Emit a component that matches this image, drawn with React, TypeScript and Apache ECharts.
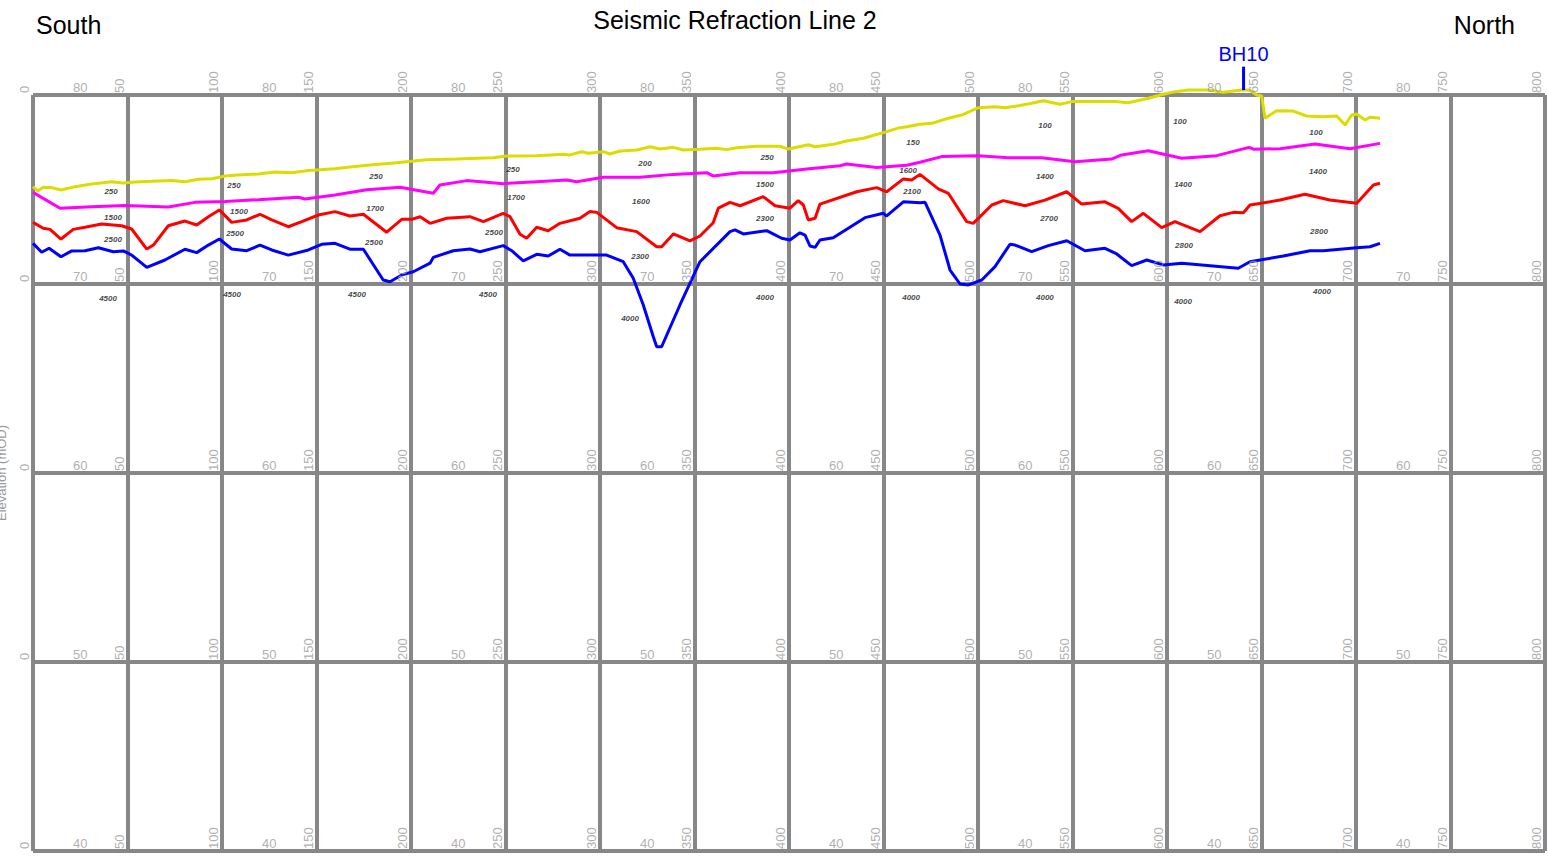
import React, { useEffect, useRef } from "react";
import * as echarts from "echarts";

const FONT = '"Liberation Sans", Arial, Helvetica, sans-serif';

const chartTitle = "Seismic Refraction Line 2";
const leftEnd = "South";
const rightEnd = "North";
const yAxisName = "Elevation (mOD)";

const distanceTicks = [0, 50, 100, 150, 200, 250, 300, 350, 400, 450, 500, 550, 600, 650, 700, 750, 800];
const elevationRows = [80, 70, 60, 50, 40];
const elevationLabelDistances = [25, 125, 225, 325, 425, 525, 625, 725];

// ground surface (yellow)
const groundSurface: [number, number][] = [
  [0, 75.15], [2.5, 74.92], [5.4, 75.12], [9.9, 75.1], [14.8, 74.97], [22.2, 75.15], [31.1, 75.29],
  [41.6, 75.41], [47.8, 75.34], [54, 75.4], [62.8, 75.43], [73.4, 75.47], [80.4, 75.41], [87.5, 75.54],
  [94.6, 75.57], [101.6, 75.71], [108.6, 75.77], [119.2, 75.82], [128, 75.93], [136.9, 75.89], [145.7, 76.0],
  [159.8, 76.1], [167.7, 76.19], [178.3, 76.3], [192.4, 76.42], [208.3, 76.58], [224.2, 76.61], [234.8, 76.65],
  [243.5, 76.68], [250.6, 76.77], [266.5, 76.79], [280.6, 76.86], [284.1, 76.83], [290.3, 77.0], [293.8, 76.92],
  [301.7, 77.0], [305.3, 76.88], [310.6, 77.04], [319.4, 77.09], [326.5, 77.26], [331.7, 77.14], [338.8, 77.23],
  [344.1, 77.09], [352.9, 77.13], [361.7, 77.18], [367, 77.11], [372.3, 77.21], [382.9, 77.29], [395.2, 77.29],
  [399.6, 77.14], [410.2, 77.37], [413.8, 77.26], [423.4, 77.39], [430.5, 77.57], [439.3, 77.71], [449.9, 78.01],
  [457.8, 78.25], [462.3, 78.32], [469.3, 78.45], [475.5, 78.5], [484.3, 78.77], [491.4, 78.94], [500.2, 79.33],
  [509, 79.38], [514.3, 79.33], [519.6, 79.4], [528.4, 79.56], [534.6, 79.7], [543.4, 79.51], [549.6, 79.65],
  [560.2, 79.65], [572.5, 79.65], [579.5, 79.59], [590.1, 79.83], [598, 80.04], [602.5, 80.14], [611.3, 80.26],
  [621.9, 80.26], [629.8, 80.14], [640.4, 80.28], [643.9, 80.25], [647.5, 80.0], [650.1, 79.95], [651.9, 78.77],
  [658, 79.17], [666.8, 79.15], [673.9, 78.89], [682.7, 78.85], [689.8, 78.89], [694.2, 78.41], [697.7, 78.94],
  [700.4, 78.99], [704.8, 78.68], [707.4, 78.82], [712.7, 78.77],
];

// first refractor (magenta)
const refractor1: [number, number][] = [
  [0, 74.85], [14.3, 74.01], [31.1, 74.09], [48.7, 74.15], [71.6, 74.07], [85.7, 74.32], [101.6, 74.37],
  [119.2, 74.46], [140.4, 74.59], [143.9, 74.5], [159.8, 74.71], [176.6, 74.99], [194.2, 75.12], [211.8, 74.8],
  [215.3, 75.24], [229.5, 75.47], [248.8, 75.31], [266.5, 75.41], [282.4, 75.5], [287.7, 75.41], [301.7, 75.65],
  [321.2, 75.65], [338.8, 75.8], [356.5, 75.89], [360, 75.71], [374.1, 75.89], [391.7, 75.89], [409.4, 76.08],
  [427, 76.26], [430.5, 76.35], [446.4, 76.17], [462.3, 76.28], [469.3, 76.44], [480.8, 76.74], [500.2, 76.79],
  [516, 76.68], [533.7, 76.68], [551.3, 76.47], [570.7, 76.61], [576, 76.83], [590.1, 77.05], [607.8, 76.65],
  [626.3, 76.79], [643.4, 77.23], [645.7, 77.13], [659.8, 77.16], [678.3, 77.41], [696.8, 77.16], [712.7, 77.44],
];

// second refractor (red)
const refractor2: [number, number][] = [
  [0, 73.26], [5.4, 72.95], [9, 72.89], [14.8, 72.38], [21.3, 72.89], [27.5, 73.0], [36.3, 73.17], [46.9, 73.08],
  [52.2, 72.91], [60.2, 71.85], [63.7, 72.06], [71.6, 73.08], [80.4, 73.33], [86.6, 73.12], [92.8, 73.56],
  [98.6, 73.92], [105.1, 73.26], [113.1, 73.39], [120.1, 73.69], [126.3, 73.39], [135.1, 73.03], [142.2, 73.3],
  [151, 73.65], [159.8, 73.83], [167.7, 73.6], [174.8, 73.69], [187.1, 72.74], [195.1, 73.42], [200.4, 73.42],
  [204.8, 73.56], [210.1, 73.21], [218.9, 73.48], [231.2, 73.56], [238.3, 73.3], [248.8, 73.74], [252.4, 73.56],
  [257.7, 72.63], [261.2, 72.42], [266.5, 73.0], [272.6, 72.82], [278.8, 73.21], [289.4, 73.48], [294.7, 73.83],
  [298.3, 73.79], [308.8, 72.98], [319.4, 72.77], [330, 71.97], [332.6, 71.97], [338.8, 72.65], [347.6, 72.28],
  [352.9, 72.54], [359.9, 73.24], [362.6, 74.01], [368.8, 74.32], [374.1, 74.14], [386.4, 74.62], [392.6, 74.14],
  [400.5, 74.01], [404.9, 74.41], [407.6, 74.18], [410.2, 73.39], [413.8, 73.48], [416.4, 74.23], [435.8, 74.88],
  [446.4, 75.1], [451.7, 74.88], [460.5, 75.56], [464.9, 75.5], [469.3, 75.8], [479, 75.03], [484.3, 74.8],
  [494, 73.3], [497.5, 73.21], [507.3, 74.18], [513.4, 74.41], [524.9, 74.14], [535.4, 74.44], [546.9, 74.88],
  [554.9, 74.23], [567.2, 74.35], [574.2, 74.0], [581.3, 73.3], [587.5, 73.74], [597.2, 72.98], [604.2, 73.3],
  [617.5, 72.77], [628, 73.61], [635.1, 73.79], [640.4, 73.77], [643.9, 74.18], [659.8, 74.44], [673, 74.75],
  [686.2, 74.44], [700.4, 74.27], [709.2, 75.24], [712.7, 75.33],
];

// third refractor (blue)
const refractor3: [number, number][] = [
  [0, 72.15], [4.6, 71.68], [8.5, 71.89], [14.8, 71.44], [20.5, 71.75], [27.5, 71.76], [34.6, 71.92], [42.5, 71.71],
  [47.8, 71.75], [52.2, 71.53], [60.2, 70.88], [69.8, 71.27], [80.4, 71.84], [86.6, 71.66], [92.8, 72.06],
  [98.6, 72.38], [105.1, 71.85], [113.1, 71.76], [120.1, 72.06], [126.3, 71.8], [135.1, 71.53], [145.7, 71.8],
  [152.7, 72.1], [159.8, 72.15], [167.7, 71.84], [174.8, 71.84], [185.3, 70.21], [188.9, 70.12], [195.1, 70.48],
  [201.2, 70.65], [210.1, 71.1], [211.8, 71.41], [222.4, 71.76], [231.2, 71.85], [236.5, 71.71], [248.8, 72.03],
  [253.3, 71.76], [259.4, 71.22], [266.5, 71.57], [272.6, 71.48], [278.8, 71.84], [284.1, 71.53], [296.5, 71.53],
  [303.5, 71.53], [312.3, 71.18], [317.6, 70.3], [322.9, 68.89], [328.2, 67.21], [330, 66.68], [332.6, 66.68],
  [342.3, 68.89], [352.9, 71.18], [368.8, 72.77], [371.4, 72.86], [375.8, 72.65], [388.2, 72.82], [396.1, 72.42],
  [400.5, 72.33], [405.8, 72.71], [408.5, 72.59], [411.1, 72.01], [413.8, 71.94], [416.4, 72.33], [423.4, 72.45],
  [440.2, 73.51], [449.9, 73.74], [451.7, 73.6], [460.5, 74.35], [469.3, 74.3], [472, 74.32], [479.9, 72.59],
  [485.2, 70.74], [490.5, 70.0], [494.9, 69.95], [502, 70.21], [509, 70.92], [516.9, 72.1], [519.6, 72.06],
  [528.4, 71.71], [537.2, 72.03], [547, 72.29], [556.6, 71.76], [567.2, 71.89], [573.4, 71.59], [581.3, 70.97],
  [589.3, 71.27], [598, 71.01], [607.8, 71.1], [618.4, 71.01], [637.7, 70.83], [643.9, 71.18], [661.5, 71.48],
  [675.7, 71.76], [682.7, 71.76], [700.4, 71.92], [707.4, 71.97], [712.7, 72.15],
];

// velocity annotations (m/s): [distance, elevation, text]
const layer1Velocities: [number, number, string][] = [
  [41.3, 74.87, "250"], [106.3, 75.19, "250"], [181.5, 75.71, "250"], [254, 76.08, "250"], [323.8, 76.4, "200"],
  [388.4, 76.67, "250"], [465.6, 77.51, "150"], [535.4, 78.36, "100"], [606.9, 78.62, "100"], [678.8, 78.04, "100"],
];
const layer2Velocities: [number, number, string][] = [
  [42.3, 73.54, "1500"], [109, 73.86, "1500"], [181, 73.97, "1700"], [255.6, 74.6, "1700"], [321.7, 74.34, "1600"],
  [387.3, 75.24, "1500"], [463, 75.98, "1600"], [535.4, 75.71, "1400"], [608.5, 75.29, "1400"], [679.9, 75.93, "1400"],
];
const layer3Velocities: [number, number, string][] = [
  [42.3, 72.33, "2500"], [106.9, 72.65, "2500"], [180.4, 72.22, "2500"], [243.9, 72.75, "2500"], [321.2, 71.43, "2300"],
  [387.3, 73.44, "2300"], [465.1, 74.92, "2100"], [537.6, 73.49, "2700"], [609, 72.06, "2800"], [680.4, 72.8, "2800"],
];
const layer4Velocities: [number, number, string][] = [
  [39.7, 69.21, "4500"], [105.3, 69.42, "4500"], [171.4, 69.47, "4500"], [240.7, 69.42, "4500"], [315.9, 68.2, "4000"],
  [387.3, 69.26, "4000"], [464.6, 69.26, "4000"], [535.4, 69.26, "4000"], [608.5, 69.05, "4000"], [682, 69.58, "4000"],
];

const boreholeName = "BH10";
const boreholeTick: [number, number][] = [[640.5, 80.26], [640.5, 81.5]];

const GRID_COLOR = "#878787";
const TICK_COLOR = "#9a9a9a";

export default function App() {
  const ref = useRef<HTMLDivElement>(null);

  useEffect(() => {
    if (!ref.current) return;
    const chart = echarts.init(ref.current, undefined, { renderer: "svg" });

    const lineSeries = (name: string, data: [number, number][], color: string) => ({
      name,
      type: "line",
      data,
      clip: false,
      showSymbol: false,
      symbol: "none",
      lineStyle: { color, width: 3 },
      z: 5,
    });

    const velocityData = [...layer1Velocities, ...layer2Velocities, ...layer3Velocities, ...layer4Velocities].map(
      ([x, y, t]) => ({ value: [x, y], name: t })
    );

    const distanceLabelData: any[] = [];
    elevationRows.forEach((r) => {
      distanceTicks.forEach((d) => distanceLabelData.push({ value: [d, r], name: String(d) }));
    });

    const elevationLabelData: any[] = [];
    elevationRows.forEach((r) => {
      elevationLabelDistances.forEach((d) => elevationLabelData.push({ value: [d, r], name: String(r) }));
    });

    chart.setOption({
      animation: false,
      backgroundColor: "#ffffff",
      textStyle: { fontFamily: FONT },
      grid: { left: 33, right: 3, top: 95, bottom: 10, containLabel: false, outerBoundsMode: "none" },
      xAxis: {
        type: "value",
        min: 0,
        max: 800,
        interval: 50,
        axisLine: { show: false },
        axisTick: { show: false },
        axisLabel: { show: false },
        splitLine: { show: true, lineStyle: { color: GRID_COLOR, width: 4 } },
      },
      yAxis: {
        type: "value",
        min: 40,
        max: 80,
        interval: 10,
        name: yAxisName,
        nameLocation: "middle",
        nameGap: 25,
        nameTextStyle: { color: TICK_COLOR, fontSize: 13, fontFamily: FONT },
        axisLine: { show: false },
        axisTick: { show: false },
        axisLabel: { show: false },
        splitLine: { show: true, lineStyle: { color: GRID_COLOR, width: 4 } },
      },
      graphic: [
        {
          type: "text",
          x: 735,
          y: 20,
          style: { text: chartTitle, fontSize: 25, fill: "#000", textAlign: "center", textVerticalAlign: "middle", fontFamily: FONT },
        },
        {
          type: "text",
          x: 36,
          y: 25,
          style: { text: leftEnd, fontSize: 25, fill: "#000", textAlign: "left", textVerticalAlign: "middle", fontFamily: FONT },
        },
        {
          type: "text",
          x: 1515,
          y: 25,
          style: { text: rightEnd, fontSize: 25, fill: "#000", textAlign: "right", textVerticalAlign: "middle", fontFamily: FONT },
        },
      ],
      series: [
        lineSeries("Ground surface", groundSurface, "#dcdc00"),
        lineSeries("Refractor 1", refractor1, "#ff00ff"),
        lineSeries("Refractor 2", refractor2, "#ff0000"),
        lineSeries("Refractor 3", refractor3, "#0000ff"),
        {
          name: boreholeName,
          type: "line",
          data: [
            { value: boreholeTick[0] },
            {
              value: boreholeTick[1],
              label: {
                show: true,
                position: "top",
                distance: 3,
                formatter: boreholeName,
                color: "#0000ff",
                fontSize: 20,
                fontFamily: FONT,
              },
            },
          ],
          clip: false,
          symbol: "circle",
          symbolSize: 0,
          lineStyle: { color: "#0000ff", width: 3 },
          z: 6,
        },
        {
          name: "Velocities",
          type: "scatter",
          data: velocityData,
          symbolSize: 0,
          clip: false,
          label: {
            show: true,
            position: "inside",
            formatter: "{b}",
            color: "#111",
            fontSize: 8,
            fontWeight: "bold",
            fontStyle: "italic",
            fontFamily: FONT,
          },
          z: 7,
        },
        {
          name: "Distance labels",
          type: "scatter",
          data: distanceLabelData,
          symbolSize: 0,
          clip: false,
          silent: true,
          label: {
            show: true,
            position: [-2, -2],
            rotate: 90,
            align: "left",
            verticalAlign: "bottom",
            formatter: "{b}",
            color: TICK_COLOR,
            fontSize: 13,
            fontFamily: FONT,
          },
          z: 8,
        },
        {
          name: "Elevation labels",
          type: "scatter",
          data: elevationLabelData,
          symbolSize: 0,
          clip: false,
          silent: true,
          label: {
            show: true,
            position: [0, -1],
            align: "center",
            verticalAlign: "bottom",
            formatter: "{b}",
            color: TICK_COLOR,
            fontSize: 13,
            fontFamily: FONT,
          },
          z: 8,
        },
      ],
    });

    return () => chart.dispose();
  }, []);

  return (
    <div
      ref={ref}
      style={{ position: "fixed", left: 0, top: 0, width: 1548, height: 861, background: "#fff" }}
    />
  );
}
